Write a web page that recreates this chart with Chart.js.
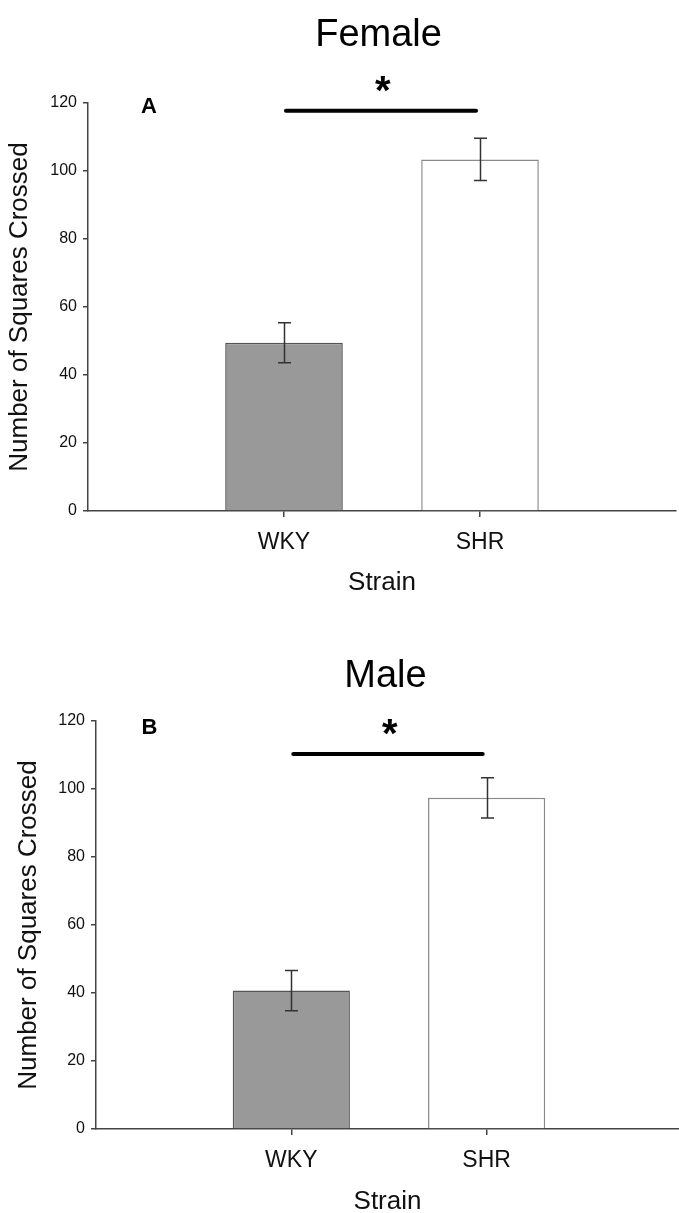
<!DOCTYPE html>
<html>
<head>
<meta charset="utf-8">
<script src="https://cdn.jsdelivr.net/npm/chart.js@4/dist/chart.umd.min.js"></script>
<style>
  html, body { margin: 0; padding: 0; background: #fff; overflow: hidden; }
  canvas { position: absolute; left: 0; }
</style>
</head>
<body>
<canvas id="female" width="679" height="606" style="top:0"></canvas>
<canvas id="male" width="679" height="620" style="top:606px"></canvas>
<script>
// ---- data ----
const categories = ['WKY', 'SHR'];
const femaleMeans = [49.5, 103.4];
const femaleSEM = [5.9, 6.2];
const maleMeans = [40.7, 97.4];
const maleSEM = [5.9, 5.9];
const yTicks = [0, 20, 40, 60, 80, 100, 120];
const sigSpan = [0.01, 0.98];      // significance bar from WKY to SHR (x units)
const femaleSigY = 117.7;
const maleSigY = 110.3;
const femaleStarY = 125.5;
const maleStarY = 118.3;

// ---- styles ----
const FAMILY = '"Liberation Sans", Arial, Helvetica, sans-serif';
const barFills = ['#999999', '#ffffff'];
const barBorders = ['#555555', '#8a8a8a'];

function drawCentered(ctx, text, cx, cy, font) {
  ctx.font = font;
  ctx.textAlign = 'left';
  ctx.textBaseline = 'alphabetic';
  const m = ctx.measureText(text);
  const w = m.actualBoundingBoxLeft + m.actualBoundingBoxRight;
  ctx.fillText(text, cx - w / 2 + m.actualBoundingBoxLeft,
               cy + (m.actualBoundingBoxAscent - m.actualBoundingBoxDescent) / 2);
}

const annot = {
  id: 'annot',
  afterDatasetsDraw(chart, args, o) {
    const { ctx } = chart;
    const x = chart.scales.x, y = chart.scales.y;
    ctx.save();
    // error bars
    ctx.strokeStyle = '#333';
    ctx.lineWidth = 1.5;
    o.means.forEach((m, i) => {
      const px = Math.round(x.getPixelForValue(i)) + 0.5;
      const t = y.getPixelForValue(m + o.sem[i]);
      const b = y.getPixelForValue(m - o.sem[i]);
      ctx.beginPath();
      ctx.moveTo(px, t); ctx.lineTo(px, b);
      ctx.moveTo(px - 6.5, t); ctx.lineTo(px + 6.5, t);
      ctx.moveTo(px - 6.5, b); ctx.lineTo(px + 6.5, b);
      ctx.stroke();
    });
    // significance line
    ctx.strokeStyle = '#000';
    ctx.lineWidth = 4;
    ctx.lineCap = 'round';
    ctx.beginPath();
    ctx.moveTo(x.getPixelForValue(sigSpan[0]), y.getPixelForValue(o.sigY));
    ctx.lineTo(x.getPixelForValue(sigSpan[1]), y.getPixelForValue(o.sigY));
    ctx.stroke();
    ctx.fillStyle = '#000';
    drawCentered(ctx, '*', x.getPixelForValue(0.505), y.getPixelForValue(o.starY), 'bold 40px ' + FAMILY);
    // panel letter
    drawCentered(ctx, o.letter, x.getPixelForValue(o.letterX), y.getPixelForValue(o.letterY), 'bold 22px ' + FAMILY);
    // chart title
    drawCentered(ctx, o.title, x.getPixelForValue(0.487), o.titleCY, '38px ' + FAMILY);
    ctx.restore();
  }
};

function makeChart(id, o) {
  return new Chart(document.getElementById(id), {
    type: 'bar',
    data: {
      datasets: [{
        data: categories.map((c, i) => ({ x: i, y: o.means[i] })),
        backgroundColor: barFills,
        borderColor: barBorders,
        borderWidth: 1.5,
        barPercentage: 0.6,
        categoryPercentage: 1
      }]
    },
    plugins: [annot],
    options: {
      responsive: false,
      animation: false,
      events: [],
      layout: { padding: { top: o.padTop, right: o.padRight, left: 0, bottom: 0 } },
      plugins: {
        legend: { display: false },
        tooltip: { enabled: false },
        annot: o
      },
      scales: {
        x: {
          type: 'linear', min: -1, max: o.xMax, offset: false, z: 1,
          afterBuildTicks: s => { s.ticks = categories.map((c, i) => ({ value: i })); },
          afterFit: s => { s.height = o.xHeight; },
          ticks: {
            callback: v => categories[v] ?? '',
            font: { size: 23, family: FAMILY }, color: '#111',
            padding: 12, maxRotation: 0, autoSkip: false
          },
          grid: { offset: false, drawOnChartArea: false, drawTicks: true, tickLength: 6, color: '#444', lineWidth: 1.5 },
          border: { color: '#444', width: 1.5 },
          title: { display: true, text: 'Strain', font: { size: 26, family: FAMILY }, color: '#111',
                   padding: { top: 0, bottom: o.strainPad } }
        },
        y: {
          min: 0, max: 120, z: 1,
          afterBuildTicks: s => { s.ticks = yTicks.map(v => ({ value: v })); },
          afterFit: s => { s.width = o.yWidth; },
          ticks: { font: { size: 16, family: FAMILY }, color: '#111', padding: 6 },
          grid: { drawOnChartArea: false, drawTicks: true, tickLength: 5, color: '#444', lineWidth: 1.5 },
          border: { color: '#444', width: 1.5 },
          title: { display: true, text: 'Number of Squares Crossed', font: { size: 26, family: FAMILY }, color: '#111',
                   padding: { top: o.yTitlePad, bottom: 0 } }
        }
      }
    }
  });
}

makeChart('female', {
  means: femaleMeans, sem: femaleSEM, sigY: femaleSigY, starY: femaleStarY,
  letter: 'A', letterX: -0.689, letterY: 119.3, title: 'Female', titleCY: 32,
  padTop: 103, padRight: 3, yWidth: 88, xMax: 2, xHeight: 95, strainPad: 7.4, yTitlePad: 4
});
makeChart('male', {
  means: maleMeans, sem: maleSEM, sigY: maleSigY, starY: maleStarY,
  letter: 'B', letterX: -0.726, letterY: 118.5, title: 'Male', titleCY: 66.5,
  padTop: 115, padRight: 0, yWidth: 96, xMax: 1.985, xHeight: 97, strainPad: 8.4, yTitlePad: 13
});
</script>
</body>
</html>
